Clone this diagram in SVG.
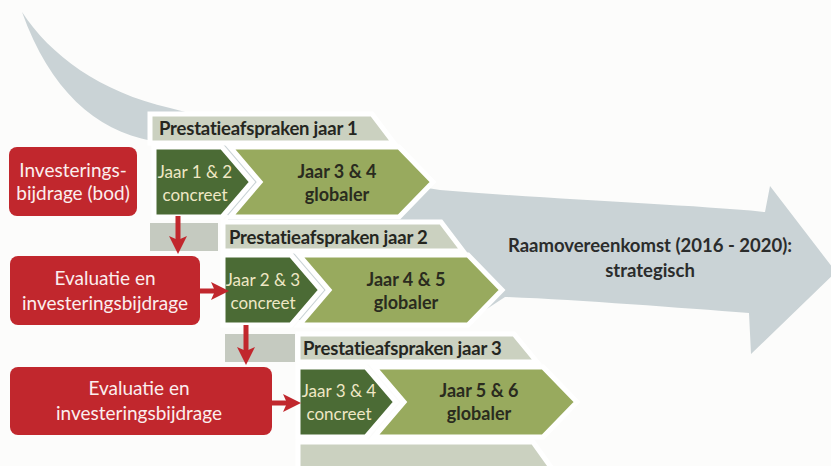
<svg xmlns="http://www.w3.org/2000/svg" width="831" height="466" viewBox="0 0 831 466">
<defs>
<style>
.bg{fill:#fcfcfb}
.arrow{fill:#cad3d6}
.hd{fill:#cbd1c0;stroke:#fff;stroke-width:5;stroke-linejoin:miter}
.blk{fill:#c5cac0}
.dk{fill:#4b6b35;stroke:#fff;stroke-width:5}
.lt{fill:#98aa5e;stroke:#fff;stroke-width:5}
.rb{fill:#c1272d}
.f{font-family:Lato,"Open Sans","Liberation Sans",sans-serif}
.rt{font-size:19px;fill:#fbeeee;text-anchor:middle}
.ht{font-size:18.5px;font-weight:bold;fill:#25261f;letter-spacing:-0.2px}
.ct{font-size:17px;fill:#efe7c4;text-anchor:middle}
.gt{font-size:18px;font-weight:bold;fill:#2a2b1e;text-anchor:middle}
.at{font-size:18.5px;font-weight:bold;fill:#2b2c2c;text-anchor:middle}
.conn{stroke:#c1272d;stroke-width:5;fill:none;marker-end:url(#ah)}
</style>
<marker id="ah" markerUnits="userSpaceOnUse" markerWidth="20" markerHeight="20" viewBox="0 0 20 20" refX="8" refY="10" orient="auto">
<path d="M0,1 L18,10 L0,19 L4,10 Z" fill="#c1272d"/>
</marker>
</defs>
<rect class="bg" x="0" y="0" width="831" height="466"/>

<g id="raamovereenkomst">
<path class="arrow" d="M 22 12 C 50 55, 100 92, 170 108 C 280 135, 360 178, 440 190 C 560 200, 680 204, 765 212 L 770 186 L 836 272 L 751 354 L 749 313 C 680 308, 580 300, 505 297 L 470 320 L 228 320 L 228 215 L 154 215 L 152 141 C 95 130, 50 90, 22 12 Z"/>
<text class="f at" x="650" y="252">Raamovereenkomst (2016 - 2020):</text>
<text class="f at" x="650" y="277">strategisch</text>
</g>

<g id="row1">
<g id="header1">
<polygon class="hd" points="150,114 372,114 394,143 150,143"/>
<text class="f ht" x="159" y="135">Prestatieafspraken jaar 1</text>
</g>
<g id="concreet1">
<polygon class="dk" points="154,147 222,147 252,182 222,217 154,217"/>
<text class="f ct" x="195" y="178">Jaar 1 &amp; 2</text>
<text class="f ct" x="195" y="201">concreet</text>
</g>
<g id="globaler1">
<polygon class="lt" points="230,147 399,147 433,182 399,217 230,217 260,182"/>
<text class="f gt" x="337" y="178">Jaar 3 &amp; 4</text>
<text class="f gt" x="337" y="201">globaler</text>
</g>
</g>

<g id="row2">
<rect class="blk" x="150" y="223" width="68" height="28"/>
<g id="header2">
<polygon class="hd" points="223,222 441,222 463,251 223,251"/>
<text class="f ht" x="229" y="244">Prestatieafspraken jaar 2</text>
</g>
<g id="concreet2">
<polygon class="dk" points="223,255 291,255 321,290 291,325 223,325"/>
<text class="f ct" x="263" y="286">Jaar 2 &amp; 3</text>
<text class="f ct" x="263" y="309">concreet</text>
</g>
<g id="globaler2">
<polygon class="lt" points="299,255 468,255 502,290 468,325 299,325 329,290"/>
<text class="f gt" x="406" y="286">Jaar 4 &amp; 5</text>
<text class="f gt" x="406" y="309">globaler</text>
</g>
</g>

<g id="row3">
<rect class="blk" x="225" y="334" width="70" height="28"/>
<g id="header3">
<polygon class="hd" points="298,334 514,334 537,362 298,362"/>
<text class="f ht" x="303" y="355">Prestatieafspraken jaar 3</text>
</g>
<g id="concreet3">
<polygon class="dk" points="298,367 366,367 396,402 366,437 298,437"/>
<text class="f ct" x="339" y="397">Jaar 3 &amp; 4</text>
<text class="f ct" x="339" y="420">concreet</text>
</g>
<g id="globaler3">
<polygon class="lt" points="374,367 543,367 577,402 543,437 374,437 404,402"/>
<text class="f gt" x="479" y="397">Jaar 5 &amp; 6</text>
<text class="f gt" x="479" y="420">globaler</text>
</g>
</g>

<g id="row4">
<polygon class="hd" points="298,442 533,442 553,470 298,470"/>
</g>

<g id="bod">
<rect class="rb" x="9" y="147" width="128" height="69" rx="8"/>
<text class="f rt" x="73" y="177">Investerings-</text>
<text class="f rt" x="73" y="200">bijdrage (bod)</text>
</g>
<g id="evaluatie1">
<rect class="rb" x="10" y="256" width="190" height="69" rx="8"/>
<text class="f rt" x="105" y="285">Evaluatie en</text>
<text class="f rt" x="105" y="310">investeringsbijdrage</text>
</g>
<g id="evaluatie2">
<rect class="rb" x="10" y="367" width="262" height="68" rx="8"/>
<text class="f rt" x="139" y="395">Evaluatie en</text>
<text class="f rt" x="139" y="420">investeringsbijdrage</text>
</g>

<g id="connectors">
<path class="conn" d="M178,216 L178,244"/>
<path class="conn" d="M200,291 L219,291"/>
<path class="conn" d="M246,325 L246,355"/>
<path class="conn" d="M272,403 L291,403"/>
</g>
</svg>
